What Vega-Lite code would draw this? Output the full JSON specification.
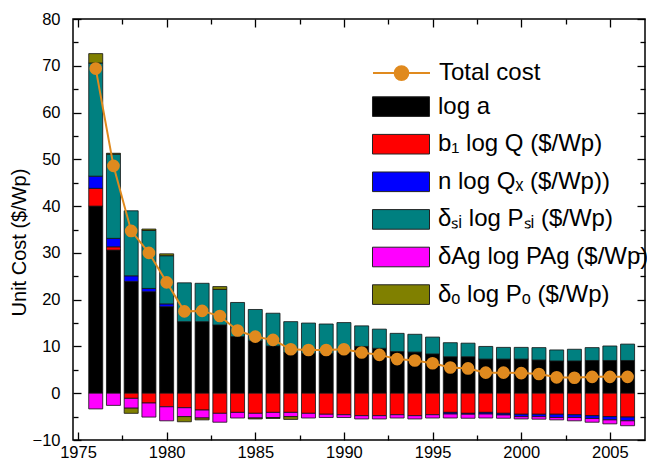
{
  "$schema": "https://vega.github.io/schema/vega-lite/v6.json",
  "width": 572,
  "height": 421,
  "autosize": {"type": "none"},
  "padding": {"left": 73, "top": 19, "right": 2, "bottom": 26},
  "background": "white",
  "config": {
    "view": {"stroke": "black", "strokeWidth": 1.5},
    "font": "Liberation Sans",
    "axis": {"labelFont": "Liberation Sans", "labelFontSize": 16.5, "labelColor": "black", "tickColor": "black", "tickWidth": 1.3, "domain": false, "grid": false, "titleFont": "Liberation Sans", "titleFontWeight": "normal", "titleColor": "black"},
    "legend": {"labelFont": "Liberation Sans", "labelFontSize": 24, "labelColor": "black", "labelLimit": 400}
  },
  "data": {"values": [
    {"year": 1976, "c1": 40.0, "c2": 3.8, "c3": 2.6, "c4": 24.2, "c5": -3.35, "c6": 2.0, "total": 69.4},
    {"year": 1977, "c1": 30.6, "c2": 0.7, "c3": 1.8, "c4": 18.0, "c5": -2.6, "c6": 0.2, "total": 48.6},
    {"year": 1978, "c1": 23.9, "c2": -1.1, "c3": 1.2, "c4": 13.9, "c5": -2.1, "c6": -1.1, "total": 34.7},
    {"year": 1979, "c1": 21.7, "c2": -2.1, "c3": 0.7, "c4": 12.4, "c5": -3.0, "c6": 0.3, "total": 30.0},
    {"year": 1980, "c1": 18.5, "c2": -2.9, "c3": 0.6, "c4": 10.3, "c5": -3.0, "c6": 0.4, "total": 23.7},
    {"year": 1981, "c1": 15.3, "c2": -3.1, "c3": 0, "c4": 8.3, "c5": -1.9, "c6": -1.1, "total": 17.5},
    {"year": 1982, "c1": 15.3, "c2": -3.6, "c3": 0, "c4": 8.2, "c5": -1.7, "c6": -0.4, "total": 17.6},
    {"year": 1983, "c1": 14.6, "c2": -4.3, "c3": 0, "c4": 7.6, "c5": -1.9, "c6": 0.6, "total": 16.5},
    {"year": 1984, "c1": 12.1, "c2": -4.1, "c3": 0, "c4": 7.3, "c5": -1.2, "c6": 0, "total": 13.4},
    {"year": 1985, "c1": 11.2, "c2": -4.3, "c3": 0, "c4": 6.7, "c5": -1.0, "c6": -0.2, "total": 12.1},
    {"year": 1986, "c1": 10.1, "c2": -4.1, "c3": 0, "c4": 7.0, "c5": -1.1, "c6": -0.2, "total": 11.4},
    {"year": 1987, "c1": 8.7, "c2": -4.1, "c3": 0, "c4": 6.6, "c5": -0.9, "c6": -0.6, "total": 9.4},
    {"year": 1988, "c1": 8.5, "c2": -4.3, "c3": 0, "c4": 6.5, "c5": -1.0, "c6": 0, "total": 9.25},
    {"year": 1989, "c1": 8.5, "c2": -4.5, "c3": 0, "c4": 6.3, "c5": -0.7, "c6": 0, "total": 9.25},
    {"year": 1990, "c1": 8.7, "c2": -4.6, "c3": 0, "c4": 6.4, "c5": -0.6, "c6": 0, "total": 9.4},
    {"year": 1991, "c1": 10.0, "c2": -4.8, "c3": 0, "c4": 4.4, "c5": -0.7, "c6": 0, "total": 8.7},
    {"year": 1992, "c1": 9.6, "c2": -4.8, "c3": 0, "c4": 4.1, "c5": -0.7, "c6": 0, "total": 8.2},
    {"year": 1993, "c1": 8.9, "c2": -4.6, "c3": 0, "c4": 3.9, "c5": -0.7, "c6": 0, "total": 7.3},
    {"year": 1994, "c1": 8.8, "c2": -4.8, "c3": 0, "c4": 3.8, "c5": -0.7, "c6": 0, "total": 7.0},
    {"year": 1995, "c1": 8.4, "c2": -4.6, "c3": 0, "c4": 3.6, "c5": -0.7, "c6": 0, "total": 6.4},
    {"year": 1996, "c1": 7.8, "c2": -4.1, "c3": -0.35, "c4": 3.0, "c5": -0.85, "c6": 0, "total": 5.5},
    {"year": 1997, "c1": 7.8, "c2": -4.3, "c3": -0.2, "c4": 2.9, "c5": -0.85, "c6": 0, "total": 5.3},
    {"year": 1998, "c1": 7.3, "c2": -4.1, "c3": -0.35, "c4": 2.7, "c5": -0.85, "c6": 0, "total": 4.4},
    {"year": 1999, "c1": 7.3, "c2": -4.3, "c3": -0.35, "c4": 2.5, "c5": -0.7, "c6": 0, "total": 4.4},
    {"year": 2000, "c1": 7.3, "c2": -4.5, "c3": -0.5, "c4": 2.5, "c5": -0.5, "c6": 0, "total": 4.3},
    {"year": 2001, "c1": 7.1, "c2": -4.5, "c3": -0.5, "c4": 2.65, "c5": -0.55, "c6": 0, "total": 4.1},
    {"year": 2002, "c1": 6.9, "c2": -4.5, "c3": -0.7, "c4": 2.35, "c5": -0.5, "c6": 0, "total": 3.4},
    {"year": 2003, "c1": 6.9, "c2": -4.6, "c3": -0.6, "c4": 2.5, "c5": -0.7, "c6": 0, "total": 3.3},
    {"year": 2004, "c1": 7.0, "c2": -4.8, "c3": -0.6, "c4": 2.75, "c5": -0.8, "c6": 0, "total": 3.5},
    {"year": 2005, "c1": 7.0, "c2": -5.0, "c3": -0.7, "c4": 3.1, "c5": -0.85, "c6": 0, "total": 3.5},
    {"year": 2006, "c1": 7.0, "c2": -5.1, "c3": -0.8, "c4": 3.5, "c5": -1.05, "c6": 0, "total": 3.5}
  ]},
  "layer": [
    {
      "transform": [
        {"fold": ["c1", "c2", "c3", "c4", "c5", "c6"], "as": ["comp", "value"]},
        {"filter": "datum.value != 0"}
      ],
      "mark": {"type": "bar", "width": 14, "stroke": "#111111", "strokeWidth": 0.8},
      "encoding": {
        "x": {"field": "year", "type": "quantitative", "scale": {"domain": [1975, 2006.7], "nice": false, "zero": false},
          "axis": {"orient": "bottom", "title": null, "values": [1975, 1977.5, 1980, 1982.5, 1985, 1987.5, 1990, 1992.5, 1995, 1997.5, 2000, 2002.5, 2005],
            "tickSize": {"condition": {"test": "datum.value % 5 === 0", "value": -8}, "value": -5},
            "labelExpr": "datum.value % 5 === 0 ? format(datum.value, 'd') : ''", "labelPadding": 12, "labelFlush": false, "labelOverlap": false}},
        "y": {"field": "value", "type": "quantitative", "stack": "zero", "scale": {"domain": [-10, 80], "nice": false},
          "axis": {"orient": "left", "title": "Unit Cost ($/Wp)", "titleFontSize": 20, "titlePadding": 3, "titleY": 223,
            "values": [-10, -5, 0, 5, 10, 15, 20, 25, 30, 35, 40, 45, 50, 55, 60, 65, 70, 75, 80],
            "tickSize": {"condition": {"test": "datum.value % 10 === 0", "value": -8}, "value": -5},
            "labelExpr": "datum.value % 10 === 0 ? format(datum.value, 'd') : ''", "labelPadding": 21, "labelOverlap": false}},
        "fill": {"field": "comp", "type": "nominal",
          "scale": {"domain": ["c1", "c2", "c3", "c4", "c5", "c6"], "range": ["#000000", "#ff0000", "#0000ff", "#008080", "#ff00ff", "#808000"]},
          "legend": {"orient": "none", "legendX": 316, "legendY": 75.6, "title": null,
            "symbolType": "M-2.5,-0.86H2.5V0.86H-2.5Z", "symbolSize": 520, "symbolStrokeColor": "#222222", "symbolStrokeWidth": 1, "symbolOpacity": 1,
            "rowPadding": 13.6, "labelOffset": 25,
            "labelExpr": "datum.label == 'c1' ? 'log a' : datum.label == 'c2' ? 'b₁ log Q ($/Wp)' : datum.label == 'c3' ? 'n log Qₓ ($/Wp))' : datum.label == 'c4' ? 'δₛᵢ log Pₛᵢ ($/Wp)' : datum.label == 'c5' ? 'δAg log PAg ($/Wp)' : 'δₒ log Pₒ ($/Wp)'"}},
        "order": {"field": "comp", "type": "nominal", "sort": "ascending"}
      }
    },
    {
      "mark": {"type": "line", "strokeWidth": 2},
      "encoding": {
        "x": {"field": "year", "type": "quantitative", "scale": {"domain": [1975, 2006.7], "nice": false, "zero": false},
          "axis": {"orient": "top", "title": null, "labels": false, "values": [1975, 1977.5, 1980, 1982.5, 1985, 1987.5, 1990, 1992.5, 1995, 1997.5, 2000, 2002.5, 2005],
            "tickSize": {"condition": {"test": "datum.value % 5 === 0", "value": -8}, "value": -5}}},
        "y": {"field": "total", "type": "quantitative", "scale": {"domain": [-10, 80], "nice": false},
          "axis": {"orient": "right", "title": null, "labels": false,
            "values": [-10, -5, 0, 5, 10, 15, 20, 25, 30, 35, 40, 45, 50, 55, 60, 65, 70, 75, 80],
            "tickSize": {"condition": {"test": "datum.value % 10 === 0", "value": -8}, "value": -5}}},
        "stroke": {"datum": "Total cost", "type": "nominal", "scale": {"range": ["#e08a1e"]},
          "legend": {"orient": "none", "legendX": 316, "legendY": 41.6, "title": null,
            "symbolType": "M-2.5,0H2.5M0.6,0A0.6,0.6,0,1,1,-0.6,0A0.6,0.6,0,1,1,0.6,0Z", "symbolSize": 520,
            "symbolFillColor": "#e08a1e", "symbolStrokeWidth": 2, "labelOffset": 25}}
      }
    },
    {
      "mark": {"type": "circle", "size": 160, "color": "#e08a1e", "opacity": 1},
      "encoding": {
        "x": {"field": "year", "type": "quantitative", "scale": {"domain": [1975, 2006.7], "nice": false, "zero": false}, "axis": null},
        "y": {"field": "total", "type": "quantitative", "scale": {"domain": [-10, 80], "nice": false}, "axis": null}
      }
    }
  ],
  "resolve": {"axis": {"x": "independent", "y": "independent"}}
}
